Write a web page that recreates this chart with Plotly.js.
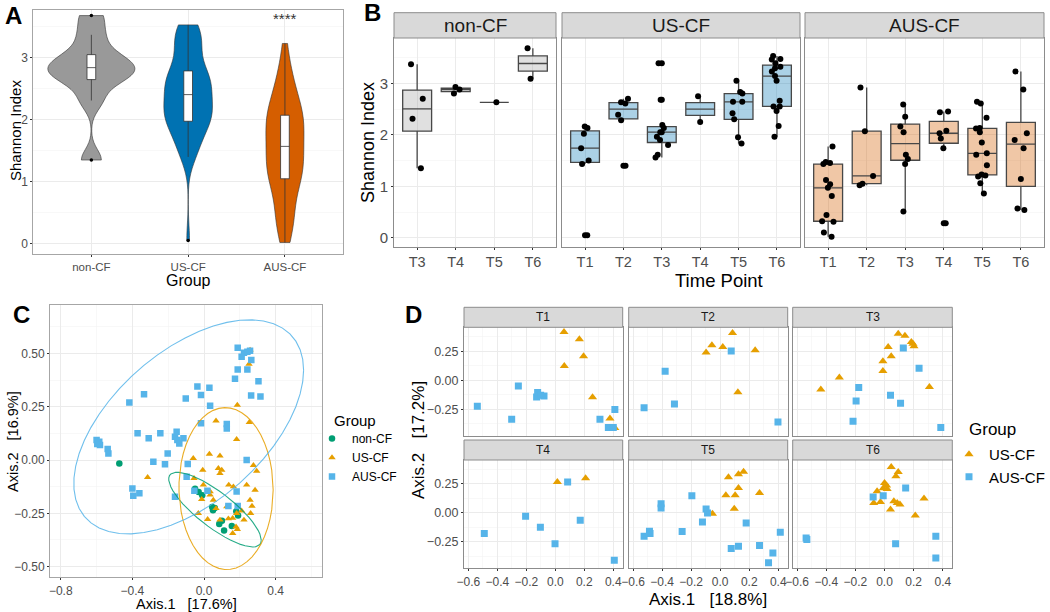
<!DOCTYPE html>
<html><head><meta charset="utf-8">
<script src="https://cdn.plot.ly/plotly-3.0.1.min.js"></script>
<style>html,body{margin:0;padding:0;background:#fff}</style>
</head><body><div id="chart" style="width:1050px;height:612px"></div>
<script>
// ================= DATA =================
const groups = ['non-CF', 'US-CF', 'AUS-CF'];
const nonCF_timepoints = ['T3', 'T4', 'T5', 'T6'];
const cf_timepoints = ['T1', 'T2', 'T3', 'T4', 'T5', 'T6'];

// Panel A / B : Shannon index per sample
const nonCF_time = ['T3','T3','T3','T3','T4','T4','T4','T5','T6','T6'];
const nonCF_shannon = [3.37,2.70,2.31,1.35, 2.93,2.88,2.80, 2.63, 3.68,3.09];

const usCF_time = ['T1','T1','T1','T1','T1','T1','T1',
  'T2','T2','T2','T2','T2','T2',
  'T3','T3','T3','T3','T3','T3','T3','T3','T3','T3','T3',
  'T4','T4',
  'T5','T5','T5','T5','T5','T5','T5','T5','T5',
  'T6','T6','T6','T6','T6','T6','T6','T6','T6','T6','T6','T6','T6','T6','T6'];
const usCF_shannon = [2.16,2.13,2.02,1.74,1.50,1.43,0.05,
  2.70,2.63,2.61,2.39,2.28,1.40,
  3.39,2.68,2.19,2.13,2.05,2.05,1.96,1.90,1.80,1.61,1.56,
  2.75,2.25,
  3.05,2.83,2.80,2.64,2.64,2.42,2.30,1.95,1.83,
  3.53,3.47,3.46,3.39,3.32,3.29,3.23,3.14,3.05,2.66,2.55,2.55,2.46,2.17,1.96];

const ausCF_time = ['T1','T1','T1','T1','T1','T1','T1','T1','T1','T1','T1','T1','T1',
  'T2','T2','T2','T2','T2',
  'T3','T3','T3','T3','T3','T3','T3','T3',
  'T4','T4','T4','T4','T4','T4','T4',
  'T5','T5','T5','T5','T5','T5','T5','T5','T5','T5','T5','T5','T5','T5','T5',
  'T6','T6','T6','T6','T6','T6','T6','T6'];
const ausCF_shannon = [1.77,1.47,1.45,1.43,1.12,1.04,0.97,0.81,0.44,0.32,0.31,0.10,0.02,
  2.92,2.07,1.20,1.05,1.02,
  2.59,2.35,2.16,2.05,1.61,1.53,1.43,0.51,
  2.45,2.44,2.08,2.03,1.93,1.74,0.28,
  2.64,2.61,2.33,2.13,2.12,2.05,1.85,1.64,1.61,1.41,1.23,1.21,1.19,1.06,0.86,
  3.23,2.88,2.03,1.90,1.74,1.14,0.57,0.54];

// Panel C : PCoA (all samples)
const C_nonCF_ax1 = [-0.473,-0.05,-0.03,-0.01,0.045,0.06,0.05,0.10,0.085,0.112,0.155,0.18,0.19];
const C_nonCF_ax2 = [-0.016,-0.135,-0.15,-0.165,-0.22,-0.225,-0.235,-0.285,-0.30,-0.33,-0.31,-0.24,-0.26];
const C_usCF_ax1 = [0.257,0.251,0.186,0.253,0.067,0.182,0.03,0.089,-0.06,-0.007,0.08,0.099,0.089,0.276,0.294,-0.315,-0.056,-0.004,0.138,0.164,0.238,0.285,0.034,-0.013,0.052,0.067,0.127,0.182,0.21,0.257,0.268,-0.032,0.02,0.136,0.16,0.223,0.179,0.16,0.186,0.089,0.26,0.034];
const C_usCF_ax2 = [0.516,0.45,0.258,0.177,0.184,0.097,0.028,0.02,0.008,-0.047,-0.039,-0.047,-0.063,-0.025,-0.052,-0.081,-0.086,-0.117,-0.117,-0.125,-0.117,-0.141,-0.148,-0.184,-0.188,-0.227,-0.219,-0.25,-0.238,-0.188,-0.216,-0.25,-0.278,-0.275,-0.273,-0.281,-0.313,-0.344,-0.325,-0.281,-0.25,-0.164];
const C_ausCF_ax1 = [0.188,0.21,0.223,0.242,0.257,0.264,0.188,0.242,0.173,0.304,0.315,0.263,-0.037,0.03,-0.017,0.034,-0.102,-0.335,-0.417,-0.017,0.127,0.127,-0.371,-0.309,-0.244,-0.153,-0.162,-0.149,-0.115,-0.138,-0.60,-0.585,-0.596,-0.581,-0.538,-0.534,-0.203,-0.218,-0.283,-0.091,0.238,-0.097,-0.40,-0.361,-0.395,-0.162,-0.054,0.019,0.182,0.136,0.188];
const C_ausCF_ax2 = [0.527,0.484,0.503,0.508,0.513,0.469,0.425,0.425,0.381,0.369,0.298,0.302,0.345,0.339,0.305,0.255,0.289,0.308,0.27,0.172,0.169,0.148,0.125,0.102,0.125,0.133,0.109,0.094,0.102,0.078,0.094,0.086,0.075,0.07,0.052,0.031,0.031,-0.02,-0.008,-0.019,0.0,-0.078,-0.133,-0.156,-0.167,-0.172,-0.144,-0.144,-0.148,-0.216,-0.216];

// Panel D : PCoA per time point (CF only)
const D_usCF_time = ['T1','T1','T1','T1','T1','T1','T1',
  'T2','T2','T2','T2','T2','T2',
  'T3','T3','T3','T3','T3','T3','T3','T3','T3','T3','T3','T3',
  'T4','T4',
  'T5','T5','T5','T5','T5','T5','T5','T5','T5',
  'T6','T6','T6','T6','T6','T6','T6','T6','T6','T6','T6','T6','T6','T6','T6','T6'];
const D_usCF_ax1 = [0.06,0.166,0.195,0.062,0.257,0.377,0.411,
  -0.097,-0.057,0.018,0.085,0.241,0.122,
  0.094,0.14,0.184,0.195,0.202,0.025,0.046,-0.011,-0.011,-0.31,-0.437,0.308,
  0.014,0.209,
  0.057,0.126,0.161,0.126,0.039,0.103,0.271,0.097,-0.053,
  0.046,0.094,0.078,0.0,0.014,-0.009,-0.051,0.018,0.064,0.087,0.106,-0.074,-0.028,0.041,0.271,0.211];
const D_usCF_ax2 = [0.417,0.353,0.207,0.124,-0.147,-0.33,-0.411,
  0.239,0.302,0.287,0.408,0.259,-0.103,
  0.402,0.385,0.33,0.316,0.293,0.287,0.207,0.164,0.08,0.023,-0.08,-0.057,
  0.267,0.299,
  0.307,0.333,0.356,0.216,0.152,0.152,0.172,0.037,-0.006,
  0.397,0.353,0.316,0.259,0.236,0.213,0.187,0.207,0.101,0.086,0.072,0.086,0.095,0.029,0.124,-0.023];
const D_ausCF_time = ['T1','T1','T1','T1','T1','T1','T1','T1','T1','T1','T1',
  'T2','T2','T2','T2','T2',
  'T3','T3','T3','T3','T3','T3','T3','T3',
  'T4','T4','T4','T4','T4','T4','T4',
  'T5','T5','T5','T5','T5','T5','T5','T5','T5','T5','T5','T5','T5','T5','T5','T5','T5',
  'T6','T6','T6','T6','T6','T6','T6','T6'];
const D_ausCF_ax1 = [-0.538,-0.255,-0.301,-0.122,-0.129,-0.101,-0.078,0.308,0.411,0.366,0.40,
  -0.379,-0.524,-0.315,0.076,0.398,
  0.129,0.237,-0.177,-0.195,0.041,0.11,-0.216,0.386,
  0.085,-0.49,-0.205,-0.103,-0.002,0.172,0.407,
  -0.195,-0.407,-0.407,-0.097,-0.087,-0.122,-0.262,-0.487,-0.483,-0.524,0.179,0.414,0.076,0.126,0.271,0.363,0.333,
  0.145,-0.078,-0.009,-0.538,-0.533,0.076,0.352,0.352];
const D_ausCF_ax2 = [-0.224,-0.049,-0.336,-0.106,-0.144,-0.129,-0.135,-0.336,-0.253,-0.408,-0.408,
  0.078,-0.236,-0.204,0.253,-0.359,
  0.279,0.103,-0.063,-0.178,-0.129,-0.198,-0.353,-0.408,
  0.267,-0.178,-0.029,-0.124,-0.267,-0.063,-0.408,
  0.149,0.08,0.043,0.034,0.0,-0.078,-0.161,-0.158,-0.178,-0.201,-0.086,-0.167,-0.307,-0.287,-0.282,-0.345,-0.431,
  0.216,0.138,0.149,-0.216,-0.23,-0.267,-0.201,-0.388];

// ================= HELPERS =================
const F = 'Liberation Sans, Arial, Helvetica, sans-serif';
const W = 1050, H = 612;
const px = v => v / W, py = v => 1 - v / H;
const sum = a => a.reduce((s, v) => s + v, 0);

function q7(s, p) { const h = (s.length - 1) * p, lo = Math.floor(h), hi = Math.ceil(h); return s[lo] + (h - lo) * (s[hi] - s[lo]); }
function boxStats(vals) {
  const s = [...vals].sort((a, b) => a - b);
  const q1 = q7(s, .25), med = q7(s, .5), q3 = q7(s, .75), iqr = q3 - q1;
  const lo = q1 - 1.5 * iqr, hi = q3 + 1.5 * iqr;
  const inside = s.filter(v => v >= lo && v <= hi);
  return { q1, med, q3, lf: Math.min(...inside), uf: Math.max(...inside), out: s.filter(v => v < lo || v > hi) };
}
function nrd0(v) {
  const s = [...v].sort((a, b) => a - b), n = s.length, m = sum(s) / n;
  const sd = Math.sqrt(s.reduce((a, x) => a + (x - m) ** 2, 0) / (n - 1));
  const iqr = q7(s, .75) - q7(s, .25);
  const lo = Math.min(sd, iqr / 1.34) || sd || 1;
  return 0.9 * lo * Math.pow(n, -0.2);
}
function kdeMax(vals, bw) {
  const lo = Math.min(...vals), hi = Math.max(...vals), n = vals.length; let m = 0;
  for (let k = 0; k < 512; k++) {
    const t = lo + (hi - lo) * k / 511; let s = 0;
    for (const v of vals) { const z = (t - v) / bw; s += Math.exp(-0.5 * z * z); }
    s /= n * bw * Math.sqrt(2 * Math.PI); if (s > m) m = s;
  }
  return m;
}
// robust t ellipse (as ggplot2 stat_ellipse, type = "t")
function ellipseT(xs, ys, level, seg) {
  const n = xs.length; let w = new Array(n).fill(1);
  let loc = [sum(xs) / n, sum(ys) / n], X;
  for (let it = 0; it < 25; it++) {
    const w0 = w.slice();
    X = xs.map((x, i) => [x - loc[0], ys[i] - loc[1]]);
    const sw = sum(w); let a = 0, b = 0, c = 0;
    X.forEach((d, i) => { const f = w[i] / sw; a += f * d[0] * d[0]; b += f * d[0] * d[1]; c += f * d[1] * d[1]; });
    const det = a * c - b * b;
    const Q = X.map(d => (c * d[0] * d[0] - 2 * b * d[0] * d[1] + a * d[1] * d[1]) / det);
    w = Q.map(q => 7 / (5 + q));
    const sw2 = sum(w);
    loc = [xs.reduce((s, x, i) => s + w[i] * x, 0) / sw2, ys.reduce((s, y, i) => s + w[i] * y, 0) / sw2];
    if (w.every((v, i) => Math.abs(v - w0[i]) < 0.01)) break;
  }
  let a = 0, b = 0, c = 0;
  X.forEach((d, i) => { a += w[i] * d[0] * d[0]; b += w[i] * d[0] * d[1]; c += w[i] * d[1] * d[1]; });
  a /= n; b /= n; c /= n;
  const r11 = Math.sqrt(a), r12 = b / r11, r22 = Math.sqrt(c - r12 * r12);
  const dfd = n - 1, qf = (dfd / 2) * (Math.pow(1 - level, -2 / dfd) - 1), rad = Math.sqrt(2 * qf);
  const ex = [], ey = [];
  for (let k = 0; k <= seg; k++) {
    const t = 2 * Math.PI * k / seg, u = Math.cos(t), v = Math.sin(t);
    ex.push(loc[0] + rad * u * r11); ey.push(loc[1] + rad * (u * r12 + v * r22));
  }
  return { ex, ey };
}

const BORDER = '#8c8c8c';
function mkAxis(o) {
  return Object.assign({
    showline: true, mirror: true, linecolor: BORDER, linewidth: 1,
    ticks: 'outside', ticklen: 2, tickwidth: 1, tickcolor: '#333',
    showgrid: true, gridcolor: '#ebebeb', gridwidth: 1, zeroline: false, fixedrange: true,
    tickfont: { family: F, size: 12, color: '#4d4d4d' }
  }, o);
}
const minorGrid = d => ({ dtick: d, showgrid: true, gridcolor: '#f4f4f4', gridwidth: 0.6, ticks: '' });

const traces = [];
const layout = {
  width: W, height: H, margin: { l: 0, r: 0, t: 0, b: 0 },
  paper_bgcolor: '#fff', plot_bgcolor: '#fff',
  boxmode: 'overlay', violinmode: 'overlay',
  font: { family: F, color: '#000' },
  showlegend: true, annotations: [], shapes: []
};
const ann = (x, y, text, size, extra) => layout.annotations.push(Object.assign({
  xref: 'paper', yref: 'paper', x: px(x), y: py(y), text, showarrow: false,
  xanchor: 'center', yanchor: 'middle', font: { family: F, size, color: '#000' }
}, extra || {}));

// ================= PANEL A =================
const A_vals = [nonCF_shannon, usCF_shannon, ausCF_shannon];
const A_fill = ['#999999', '#0072B2', '#D55E00'];
const A_bw = A_vals.map(nrd0);
const A_dmax = A_vals.map((v, i) => kdeMax(v, A_bw[i]));
const A_dall = Math.max(...A_dmax);
A_vals.forEach((v, i) => {
  traces.push({
    type: 'violin', x: v.map(() => groups[i]), y: v, points: false, box: { visible: false },
    meanline: { visible: false }, spanmode: 'hard', bandwidth: A_bw[i], scalemode: 'width',
    width: 0.9 * A_dmax[i] / A_dall, fillcolor: A_fill[i], line: { color: '#333', width: 0.6 },
    opacity: 1, hoverinfo: 'skip', showlegend: false, xaxis: 'x', yaxis: 'y'
  });
});
const A_st = A_vals.map(boxStats);
traces.push({
  type: 'box', x: groups, q1: A_st.map(s => s.q1), median: A_st.map(s => s.med), q3: A_st.map(s => s.q3),
  lowerfence: A_st.map(s => s.lf), upperfence: A_st.map(s => s.uf), boxpoints: false,
  width: 0.09, whiskerwidth: 0, fillcolor: '#fff', line: { color: '#333', width: 0.8 },
  hoverinfo: 'skip', showlegend: false, xaxis: 'x', yaxis: 'y'
});
{
  const ox = [], oy = [];
  A_st.forEach((s, k) => s.out.forEach(o => { ox.push(groups[k]); oy.push(o); }));
  traces.push({ type: 'scatter', mode: 'markers', x: ox, y: oy, marker: { color: '#000', size: 3.5 },
    hoverinfo: 'skip', showlegend: false, xaxis: 'x', yaxis: 'y' });
}
layout.xaxis = mkAxis({ domain: [px(33.3), px(343)], anchor: 'y', type: 'category', categoryorder: 'array',
  categoryarray: groups, range: [-0.6, 2.6], linecolor: '#a6a6a6',
  tickfont: { family: F, size: 11.5, color: '#4d4d4d' } });
layout.yaxis = mkAxis({ domain: [py(254), py(10)], anchor: 'x', range: [-0.166, 3.77], tickvals: [0, 1, 2, 3],
  minor: minorGrid(0.5), linecolor: '#a6a6a6' });
layout.annotations.push({ xref: 'x', yref: 'y', x: 'AUS-CF', y: 3.64, text: '****', showarrow: false,
  font: { family: F, size: 15, color: '#333' } });
ann(15, 131, 'Shannon Index', 15, { textangle: -90 });
ann(188, 281, 'Group', 16);
ann(13, 15, '<b>A</b>', 24);

// ================= PANEL B =================
const B_facets = [
  { name: 'non-CF', t: nonCF_time, v: nonCF_shannon, cats: nonCF_timepoints, x0: 394, x1: 556, fill: 'rgba(153,153,153,0.3)' },
  { name: 'US-CF', t: usCF_time, v: usCF_shannon, cats: cf_timepoints, x0: 562, x1: 800, fill: 'rgba(0,114,178,0.33)' },
  { name: 'AUS-CF', t: ausCF_time, v: ausCF_shannon, cats: cf_timepoints, x0: 805, x1: 1044, fill: 'rgba(213,94,0,0.35)' }
];
B_facets.forEach((f, j) => {
  const xa = 'x' + (j + 2), ya = 'y' + (j + 2);
  const st = f.cats.map(c => boxStats(f.v.filter((_, i) => f.t[i] === c)));
  traces.push({
    type: 'box', x: f.cats, q1: st.map(s => s.q1), median: st.map(s => s.med), q3: st.map(s => s.q3),
    lowerfence: st.map(s => s.lf), upperfence: st.map(s => s.uf), boxpoints: false,
    width: 0.75, whiskerwidth: 0, fillcolor: f.fill, line: { color: '#474747', width: 1.3 },
    hoverinfo: 'skip', showlegend: false, xaxis: xa, yaxis: ya
  });
  const ox = [], oy = [];
  st.forEach((s, k) => s.out.forEach(o => { ox.push(f.cats[k]); oy.push(o); }));
  traces.push({ type: 'scatter', mode: 'markers', x: ox, y: oy, marker: { color: '#000', size: 6 },
    hoverinfo: 'skip', showlegend: false, xaxis: xa, yaxis: ya });
  traces.push({
    type: 'box', x: f.t, y: f.v, boxpoints: 'all', jitter: 0.5, pointpos: 0, width: 0.75,
    fillcolor: 'rgba(0,0,0,0)', line: { color: 'rgba(0,0,0,0)', width: 0 }, whiskerwidth: 0,
    marker: { color: '#000', size: 6 }, hoverinfo: 'skip', showlegend: false, xaxis: xa, yaxis: ya
  });
  layout['xaxis' + (j + 2)] = mkAxis({ domain: [px(f.x0), px(f.x1)], anchor: ya, type: 'category',
    categoryorder: 'array', categoryarray: f.cats, range: [-0.6, f.cats.length - 0.4],
    tickfont: { family: F, size: 14.5, color: '#4d4d4d' } });
  layout['yaxis' + (j + 2)] = mkAxis({ domain: [py(247), py(38)], anchor: xa, range: [-0.18, 3.88],
    tickvals: [0, 1, 2, 3], minor: minorGrid(0.5), showticklabels: j === 0, ticks: j === 0 ? 'outside' : '',
    tickfont: { family: F, size: 15, color: '#4d4d4d' } });
  layout.shapes.push({ type: 'rect', xref: 'paper', yref: 'paper', x0: px(f.x0), x1: px(f.x1), y0: py(38), y1: py(12.7),
    fillcolor: '#d9d9d9', line: { color: BORDER, width: 1 } });
  ann((f.x0 + f.x1) / 2, 25.5, f.name, 19, { font: { family: F, size: 19, color: '#1a1a1a' } });
});
ann(368, 143, 'Shannon Index', 18, { textangle: -90 });
ann(719, 281, 'Time Point', 18.5);
ann(372, 12.5, '<b>B</b>', 24);

// ================= PANEL C =================
const C_sets = [
  { name: 'non-CF', x: C_nonCF_ax1, y: C_nonCF_ax2, color: '#009E73', sym: 'circle' },
  { name: 'US-CF', x: C_usCF_ax1, y: C_usCF_ax2, color: '#E69F00', sym: 'triangle-up' },
  { name: 'AUS-CF', x: C_ausCF_ax1, y: C_ausCF_ax2, color: '#56B4E9', sym: 'square' }
];
C_sets.forEach(s => {
  traces.push({ type: 'scatter', mode: 'markers', x: s.x, y: s.y, name: s.name,
    marker: { color: s.color, symbol: s.sym, size: 6.5 }, hoverinfo: 'skip',
    xaxis: 'x5', yaxis: 'y5', legend: 'legend', showlegend: true });
});
C_sets.forEach(s => {
  const e = ellipseT(s.x, s.y, 0.95, 51);
  traces.push({ type: 'scatter', mode: 'lines', x: e.ex, y: e.ey, line: { color: s.color, width: 1.1 },
    opacity: 0.85, hoverinfo: 'skip', showlegend: false, xaxis: 'x5', yaxis: 'y5' });
});
layout.xaxis5 = mkAxis({ domain: [px(50), px(321.7)], anchor: 'y5', range: [-0.86, 0.657],
  tickvals: [-0.8, -0.4, 0, 0.4], tickformat: '.1f', minor: minorGrid(0.2), linecolor: '#a6a6a6' });
layout.yaxis5 = mkAxis({ domain: [py(577.3), py(305)], anchor: 'x5', range: [-0.55, 0.727],
  tickvals: [-0.5, -0.25, 0, 0.25, 0.5], tickformat: '.2f', minor: minorGrid(0.125), linecolor: '#a6a6a6' });
layout.legend = { x: px(312), y: py(424), xanchor: 'left', yanchor: 'top', bgcolor: 'rgba(0,0,0,0)',
  font: { family: F, size: 12, color: '#000' }, tracegroupgap: 0 };
ann(186.7, 603.5, 'Axis.1\u00a0\u00a0\u00a0[17.6%]', 14.5);
ann(13, 442, 'Axis.2\u00a0\u00a0\u00a0[16.9%]', 14.5, { textangle: -90 });
ann(332, 420, 'Group', 15, { xanchor: 'left' });
ann(21, 315, '<b>C</b>', 24);

// ================= PANEL D =================
const D_cols = [[464, 622.7], [628.7, 787.7], [792.7, 952.3]];
const D_rows = [[327.3, 435.7], [460, 568.3]];
cf_timepoints.forEach((tp, k) => {
  const r = Math.floor(k / 3), c = k % 3, n = 6 + k;
  const xa = 'x' + n, ya = 'y' + n;
  const selU = D_usCF_time.map((t, i) => t === tp ? i : -1).filter(i => i >= 0);
  const selA = D_ausCF_time.map((t, i) => t === tp ? i : -1).filter(i => i >= 0);
  traces.push({ type: 'scatter', mode: 'markers', name: 'US-CF', x: selU.map(i => D_usCF_ax1[i]), y: selU.map(i => D_usCF_ax2[i]),
    marker: { color: '#E69F00', symbol: 'triangle-up', size: 8 }, hoverinfo: 'skip',
    xaxis: xa, yaxis: ya, legend: 'legend2', showlegend: k === 0 });
  traces.push({ type: 'scatter', mode: 'markers', name: 'AUS-CF', x: selA.map(i => D_ausCF_ax1[i]), y: selA.map(i => D_ausCF_ax2[i]),
    marker: { color: '#56B4E9', symbol: 'square', size: 7 }, hoverinfo: 'skip',
    xaxis: xa, yaxis: ya, legend: 'legend2', showlegend: k === 0 });
  const [x0, x1] = D_cols[c], [y0, y1] = D_rows[r];
  layout['xaxis' + n] = mkAxis({ domain: [px(x0), px(x1)], anchor: ya, range: [-0.63, 0.465],
    tickvals: [-0.6, -0.4, -0.2, 0, 0.2, 0.4], tickformat: '.1f', minor: minorGrid(0.1),
    showticklabels: r === 1, ticks: r === 1 ? 'outside' : '',
    tickfont: { family: F, size: 12, color: '#4d4d4d' } });
  layout['yaxis' + n] = mkAxis({ domain: [py(y1), py(y0)], anchor: xa, range: [-0.478, 0.457],
    tickvals: [-0.25, 0, 0.25], tickformat: '.2f', minor: minorGrid(0.125),
    showticklabels: c === 0, ticks: c === 0 ? 'outside' : '',
    tickfont: { family: F, size: 12.5, color: '#4d4d4d' } });
  layout.shapes.push({ type: 'rect', xref: 'paper', yref: 'paper', x0: px(x0), x1: px(x1), y0: py(y0), y1: py(y0 - 20),
    fillcolor: '#d9d9d9', line: { color: BORDER, width: 1 } });
  ann((x0 + x1) / 2, y0 - 10, tp, 12, { font: { family: F, size: 12, color: '#1a1a1a' } });
});
layout.legend2 = { x: px(949), y: py(438), xanchor: 'left', yanchor: 'top', bgcolor: 'rgba(0,0,0,0)',
  font: { family: F, size: 15, color: '#000' }, tracegroupgap: 0 };
ann(708, 599, 'Axis.1\u00a0\u00a0\u00a0[18.8%]', 17);
ann(418, 440, 'Axis.2\u00a0\u00a0\u00a0[17.2%]', 17, { textangle: -90 });
ann(966.7, 430, 'Group', 17, { xanchor: 'left' });
ann(413, 315, '<b>D</b>', 24);

Plotly.newPlot('chart', traces, layout, { staticPlot: true, displayModeBar: false });
</script>
</body></html>
